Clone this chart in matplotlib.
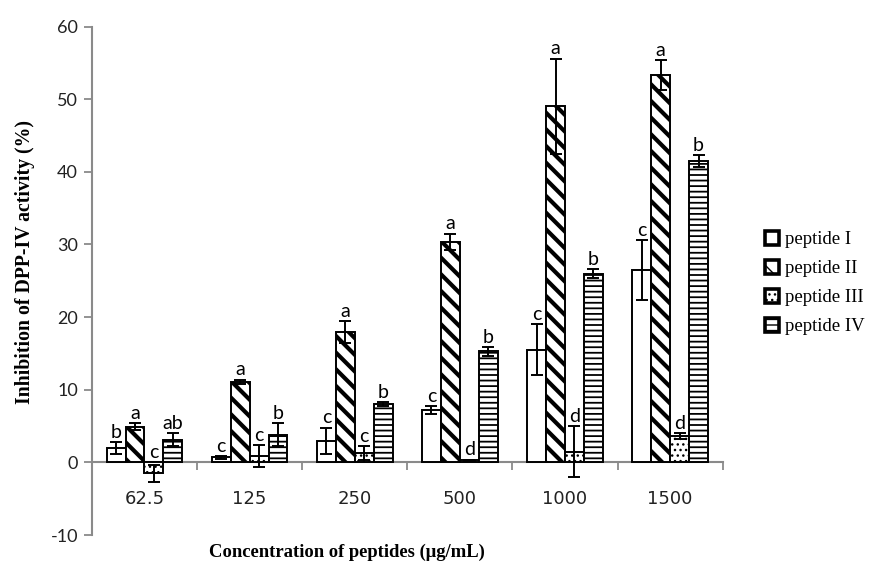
import matplotlib.pyplot as plt
import numpy as np
from matplotlib.patches import Patch

# Values
concentrations = ["62.5", "125", "250", "500", "1000", "1500"]
series_names = ["peptide I", "peptide II", "peptide III", "peptide IV"]

peptide_1 = [2.0, 0.7, 3.0, 7.2, 15.5, 26.5]
peptide_1_err = [0.8, 0.2, 1.8, 0.5, 3.5, 4.1]
peptide_2 = [4.9, 11.1, 18.0, 30.4, 49.0, 53.3]
peptide_2_err = [0.5, 0.3, 1.5, 1.1, 6.6, 2.1]
peptide_3 = [-1.5, 0.9, 1.3, 0.3, 1.5, 3.6]
peptide_3_err = [1.2, 1.5, 1.0, 0.1, 3.5, 0.4]
peptide_4 = [3.1, 3.8, 8.0, 15.3, 26.0, 41.5]
peptide_4_err = [0.9, 1.6, 0.3, 0.6, 0.6, 0.8]

letters_1 = ["b", "c", "c", "c", "c", "c"]
letters_2 = ["a", "a", "a", "a", "a", "a"]
letters_3 = ["c", "c", "c", "d", "d", "d"]
letters_4 = ["ab", "b", "b", "b", "b", "b"]

values = [peptide_1, peptide_2, peptide_3, peptide_4]
errors = [peptide_1_err, peptide_2_err, peptide_3_err, peptide_4_err]
letters = [letters_1, letters_2, letters_3, letters_4]

# hatch pattern and hatch line width per series
HATCHES = ["", "\\\\", "...", "---"]
HATCH_LW = [1.0, 3.0, 1.0, 1.3]

AXIS_GREY = "#8a8a8a"
TICK_FONT = "Lato"
SERIF = "Liberation Serif"

plt.rcParams["axes.unicode_minus"] = False

fig = plt.figure(figsize=(8.75, 5.65), dpi=100)
ax = fig.add_axes([0.105, 0.053, 0.721, 0.900])

x = np.arange(len(concentrations))
width = 0.18
handles = []
for i, (vals, errs, labs) in enumerate(zip(values, errors, letters)):
    pos = x + (i - 1.5) * width
    with plt.rc_context({"hatch.linewidth": HATCH_LW[i], "hatch.color": "black"}):
        bars = ax.bar(pos, vals, width, color="white", edgecolor="black",
                      linewidth=1.4, hatch=HATCHES[i], zorder=2)
        handles.append(Patch(facecolor="white", edgecolor="black", linewidth=2.6,
                             hatch=HATCHES[i], label=series_names[i]))
    for b in bars:
        if hasattr(b, "set_hatch_linewidth"):
            b.set_hatch_linewidth(HATCH_LW[i])
    ax.errorbar(pos, vals, yerr=errs, fmt="none", ecolor="black", elinewidth=1.4,
                capsize=4, capthick=1.4, zorder=3)
    for px, v, e, lab in zip(pos, vals, errs, labs):
        top = max(v + e, 0)
        ax.annotate(lab, (px, top), xytext=(0, 3), textcoords="offset points",
                    ha="center", va="baseline", fontsize=14, family=TICK_FONT,
                    color="black", zorder=4)

ax.set_xlim(-0.5, len(concentrations) - 0.5)
ax.set_ylim(-10, 60)
ax.set_yticks(np.arange(-10, 61, 10))

# category boundaries carry the tick marks, centres carry the labels
ax.set_xticks(np.arange(-0.5, len(concentrations), 1.0))
ax.set_xticklabels([])
ax.set_xticks(x, minor=True)
ax.set_xticklabels(concentrations, minor=True)
ax.tick_params(axis="x", which="major", direction="out", length=6, width=1.3,
               color=AXIS_GREY)
ax.tick_params(axis="x", which="minor", length=0, pad=20, labelsize=13,
               labelcolor="#222222")
ax.tick_params(axis="y", direction="out", length=6, width=1.3, color=AXIS_GREY,
               labelsize=13, labelcolor="#222222", pad=4)
for lab in ax.get_xticklabels(minor=True) + ax.get_yticklabels():
    lab.set_family(TICK_FONT)

ax.spines["bottom"].set_position(("data", 0))
for side in ["top", "right"]:
    ax.spines[side].set_visible(False)
for side in ["bottom", "left"]:
    ax.spines[side].set_color(AXIS_GREY)
    ax.spines[side].set_linewidth(1.5)
    ax.spines[side].set_zorder(1)

fig.text(25 / 875, 1 - 262 / 565, "Inhibition of DPP-IV activity (%)", rotation=90,
         ha="center", va="center", fontsize=14.2, fontweight="bold", family=SERIF)
fig.text(347 / 875, 1 - 552 / 565, "Concentration of peptides (μg/mL)",
         ha="center", va="center", fontsize=13.4, fontweight="bold", family=SERIF)

fig.legend(handles=handles, loc="upper left", bbox_to_anchor=(748 / 875, 1 - 214 / 565),
           frameon=False, handlelength=0.75, handleheight=0.75, handletextpad=0.3,
           labelspacing=0.62, prop={"family": SERIF, "size": 13.5})

fig.savefig("out.png", dpi=100)
